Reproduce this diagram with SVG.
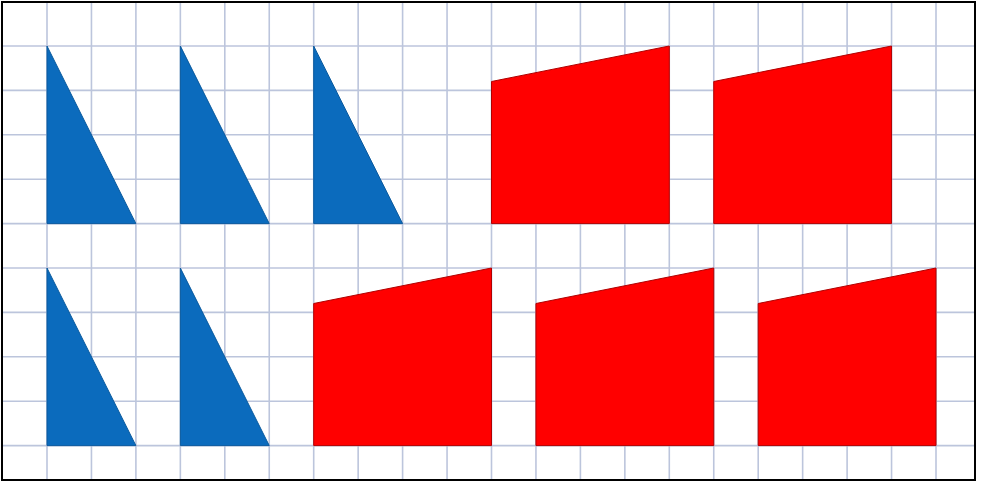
<svg xmlns="http://www.w3.org/2000/svg" width="981" height="482" viewBox="0 0 981 482">
<defs>
<style>
.grid line{stroke:#bcc5dc;stroke-width:1.6}
.tri{fill:#0b6bbd;stroke:#0a5a9e;stroke-width:1}
.quad{fill:#ff0000;stroke:#b00000;stroke-width:1}
</style>
</defs>
<rect x="0" y="0" width="981" height="482" fill="#ffffff"/>
<g class="grid" id="grid">
<line x1="47" y1="2" x2="47" y2="480"/>
<line x1="91.45" y1="2" x2="91.45" y2="480"/>
<line x1="135.9" y1="2" x2="135.9" y2="480"/>
<line x1="180.35" y1="2" x2="180.35" y2="480"/>
<line x1="224.8" y1="2" x2="224.8" y2="480"/>
<line x1="269.25" y1="2" x2="269.25" y2="480"/>
<line x1="313.7" y1="2" x2="313.7" y2="480"/>
<line x1="358.15" y1="2" x2="358.15" y2="480"/>
<line x1="402.6" y1="2" x2="402.6" y2="480"/>
<line x1="447.05" y1="2" x2="447.05" y2="480"/>
<line x1="491.5" y1="2" x2="491.5" y2="480"/>
<line x1="535.95" y1="2" x2="535.95" y2="480"/>
<line x1="580.4" y1="2" x2="580.4" y2="480"/>
<line x1="624.85" y1="2" x2="624.85" y2="480"/>
<line x1="669.3" y1="2" x2="669.3" y2="480"/>
<line x1="713.75" y1="2" x2="713.75" y2="480"/>
<line x1="758.2" y1="2" x2="758.2" y2="480"/>
<line x1="802.65" y1="2" x2="802.65" y2="480"/>
<line x1="847.1" y1="2" x2="847.1" y2="480"/>
<line x1="891.55" y1="2" x2="891.55" y2="480"/>
<line x1="936" y1="2" x2="936" y2="480"/>
<line x1="2" y1="46" x2="975" y2="46"/>
<line x1="2" y1="90.4" x2="975" y2="90.4"/>
<line x1="2" y1="134.8" x2="975" y2="134.8"/>
<line x1="2" y1="179.2" x2="975" y2="179.2"/>
<line x1="2" y1="223.6" x2="975" y2="223.6"/>
<line x1="2" y1="268" x2="975" y2="268"/>
<line x1="2" y1="312.4" x2="975" y2="312.4"/>
<line x1="2" y1="356.8" x2="975" y2="356.8"/>
<line x1="2" y1="401.2" x2="975" y2="401.2"/>
<line x1="2" y1="445.6" x2="975" y2="445.6"/>
</g>
<g id="shapes-row1">
<polygon id="tri1" class="tri" points="47,46 47,223.6 135.9,223.6"/>
<polygon id="tri2" class="tri" points="180.35,46 180.35,223.6 269.25,223.6"/>
<polygon id="tri3" class="tri" points="313.7,46 313.7,223.6 402.6,223.6"/>
<polygon id="quad1" class="quad" points="491.5,81.5 669.3,46 669.3,223.6 491.5,223.6"/>
<polygon id="quad2" class="quad" points="713.75,81.5 891.55,46 891.55,223.6 713.75,223.6"/>
</g>
<g id="shapes-row2">
<polygon id="tri4" class="tri" points="47,268 47,445.6 135.9,445.6"/>
<polygon id="tri5" class="tri" points="180.35,268 180.35,445.6 269.25,445.6"/>
<polygon id="quad3" class="quad" points="313.7,303.5 491.5,268 491.5,445.6 313.7,445.6"/>
<polygon id="quad4" class="quad" points="535.95,303.5 713.75,268 713.75,445.6 535.95,445.6"/>
<polygon id="quad5" class="quad" points="758.2,303.5 936,268 936,445.6 758.2,445.6"/>
</g>
<rect id="border" x="2" y="2" width="973" height="478" fill="none" stroke="#000000" stroke-width="2"/>
</svg>
